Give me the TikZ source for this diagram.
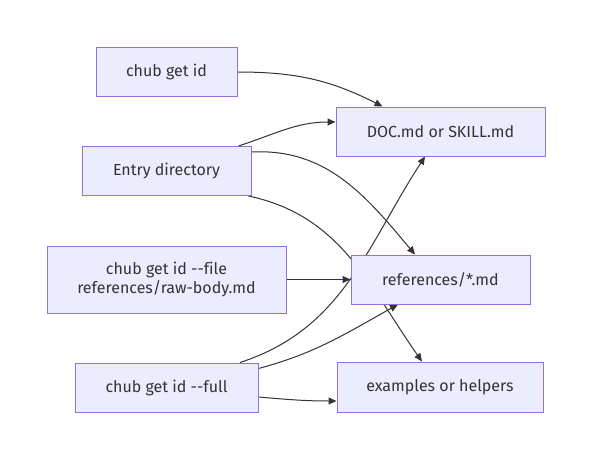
\documentclass[tikz,border=0pt]{standalone}
\usepackage{fontspec}
\setmainfont{Fira Sans}[Ligatures={TeXOff,CommonOff}]
\usepackage{xcolor}
\usepackage{tikz}
\usetikzlibrary{positioning,calc,arrows.meta,backgrounds}
\definecolor{boxfill}{HTML}{ECECFF}
\definecolor{boxline}{HTML}{9370DB}
\definecolor{ink}{HTML}{333333}
\tikzstyle{blk}= [rectangle, draw=boxline, fill=boxfill, line width=1pt, text=ink, minimum height=49pt, inner sep=0pt, align=center, font=\fontsize{16}{19}\selectfont]
\tikzstyle{arr}= [draw=ink, line width=1pt, -{Triangle[length=8pt,width=7pt]}]

\begin{document}
\begin{tikzpicture}[x=1pt, y=-1pt]
				\useasboundingbox (0,0) rectangle (592,460);
				\node[blk, minimum width=141pt] (getid) at (166.5, 72) {chub get id};
				\node[blk, minimum width=209pt] (doc) at (440.5, 131.5) {DOC.md or SKILL.md};
				\node[blk, minimum width=169pt] (entry) at (166.5, 171) {Entry directory};
				\node[blk, minimum width=239pt, minimum height=67pt] (file) at (166.5, 279.5) {chub get id --file\\references/raw-body.md};
				\node[blk, minimum width=179pt] (refs) at (440.5, 279.5) {references/*.md};
				\node[blk, minimum width=183pt] (full) at (166.5, 387.5) {chub get id --full};
				\node[blk, minimum width=206pt, minimum height=50pt] (ex) at (440, 387) {examples or helpers};
				\begin{scope}[on background layer]
				\draw[arr] (getid.east) to[out=0, in=153] ([xshift=-58pt]doc.north);
				\draw[arr] ([xshift=72pt]entry.north) to[out=18, in=180] ([yshift=9.5pt]doc.west);
				\draw[arr] ([yshift=19pt]entry.east) to[out=3, in=130] ([xshift=-25.5pt]refs.north);
				\draw[arr] ([xshift=-3pt]entry.south east) to[out=-12, in=125] ([xshift=-18pt]ex.north);
				\draw[arr] (file.east) -- (refs.west);
				\draw[arr] ([xshift=73.5pt]full.north) to[out=18, in=-123] ([xshift=-15.5pt]doc.south);
				\draw[arr] ([yshift=-6pt]full.north east) to[out=15, in=-151] ([xshift=-42.5pt]refs.south);
				\draw[arr] ([yshift=-9.5pt]full.east) to[out=-5, in=180] ([yshift=-14pt]ex.west);
				\end{scope}
			\end{tikzpicture}
\end{document}
